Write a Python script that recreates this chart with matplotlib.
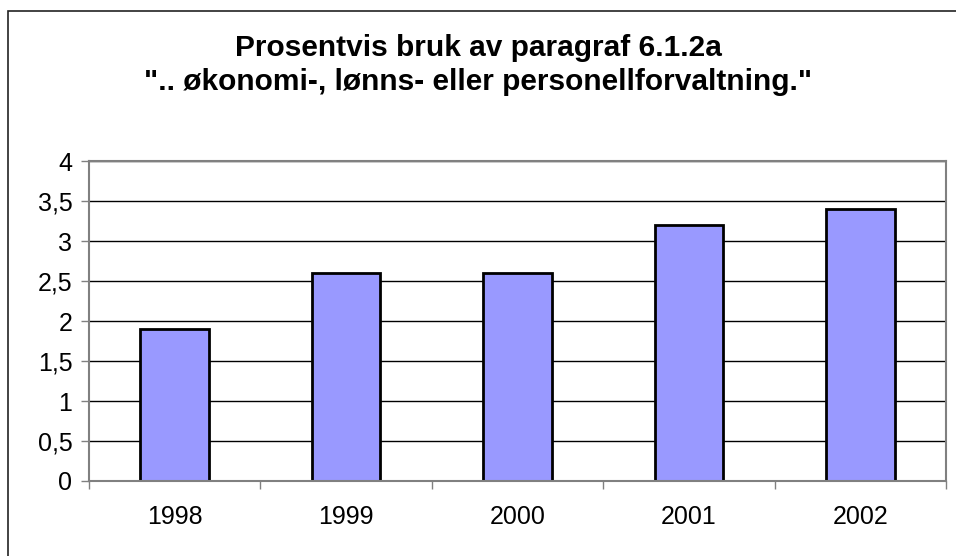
import matplotlib
matplotlib.use('Agg')
from matplotlib import pyplot as plt
from matplotlib.patches import Rectangle
from matplotlib.ticker import FuncFormatter

# DATA
years = ['1998', '1999', '2000', '2001', '2002']
values = [1.9, 2.6, 2.6, 3.2, 3.4]
yticks = [0, 0.5, 1, 1.5, 2, 2.5, 3, 3.5, 4]
title = 'Prosentvis bruk av paragraf 6.1.2a\n".. økonomi-, lønns- eller personellforvaltning."'

plt.rcParams['font.family'] = ['Liberation Sans', 'DejaVu Sans']

fig = plt.figure(figsize=(9.56, 5.56), dpi=100)
ax = fig.add_axes([0.0931, 0.1349, 0.8964, 0.5755])

# outer chart frame (cut off at right and bottom like the source)
fig.patches.append(Rectangle((8 / 956, -0.05), 1.0, 1 - 11 / 556 + 0.05,
                             transform=fig.transFigure, fill=False,
                             ec='#222222', lw=1.2))

x = range(len(years))
ax.bar(x, values, width=0.4, color='#9999FF', edgecolor='black', lw=2, zorder=3)

ax.set_xlim(-0.5, len(years) - 0.5)
ax.set_ylim(0, 4)
ax.set_yticks(yticks)
ax.yaxis.set_major_formatter(FuncFormatter(lambda v, p: f'{v:g}'.replace('.', ',')))
ax.grid(axis='y', color='black', lw=1, zorder=1)

ax.set_xticks([i - 0.5 for i in range(len(years) + 1)])
ax.set_xticklabels([])
ax.set_xticks(list(x), minor=True)
ax.set_xticklabels(years, minor=True)

ax.tick_params(axis='x', which='major', direction='out', length=6, color='#808080', width=1)
ax.tick_params(axis='x', which='minor', length=0, pad=17, labelsize=18)
ax.tick_params(axis='y', direction='out', length=6, color='#808080', width=1, pad=6, labelsize=18)

for s in ax.spines.values():
    s.set_color('#808080')
    s.set_linewidth(1.5)
    s.set_zorder(4)

fig.text(0.5, 1 - 65 / 556, title, ha='center', va='center', fontsize=21.5,
         fontweight='bold', linespacing=1.3)

fig.savefig('out.png', dpi=100)
